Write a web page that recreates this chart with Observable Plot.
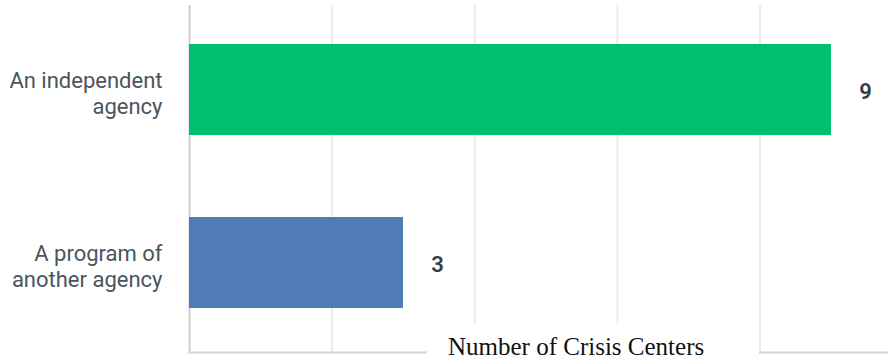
<!DOCTYPE html>
<html>
<head>
<meta charset="utf-8">
<script src="https://cdn.jsdelivr.net/npm/d3@7"></script>
<script src="https://cdn.jsdelivr.net/npm/@observablehq/plot@0.6"></script>
<style>
  html, body { margin: 0; padding: 0; background: #ffffff; }
  #wrap { position: relative; width: 888px; height: 363px; overflow: hidden; }
  #xlabel {
    position: absolute; left: 427px; top: 323px; width: 332px; height: 40px;
    background: #ffffff; box-sizing: border-box; padding-top: 9px; padding-left: 21px;
    font-family: "Liberation Serif", "DejaVu Serif", serif; font-size: 25px; line-height: 30px;
    color: #111111; white-space: nowrap; overflow: hidden;
  }
</style>
</head>
<body>
<div id="wrap"></div>
<script>
const categories = ["An independent agency", "A program of another agency"];
const counts = [9, 3];
const labelLines = ["An independent\nagency", "A program of\nanother agency"];
const barColors = ["#00bf6f", "#507cb6"];
const gridTicks = [2, 4, 6, 8];
const axisTitle = "Number of Crisis Centers";

const data = categories.map((c, i) => ({category: c, count: counts[i]}));
const labelMap = new Map(categories.map((c, i) => [c, labelLines[i]]));

const chart = Plot.plot({
  width: 888,
  height: 363,
  marginLeft: 189,
  marginRight: 0,
  marginTop: 5,
  marginBottom: 11,
  style: {fontFamily: "Roboto, 'Open Sans', sans-serif", background: "#ffffff"},
  x: {domain: [0, 9.8], axis: null},
  y: {domain: categories, range: [3, 350], paddingInner: 0.473, paddingOuter: 0.2365, axis: null},
  color: {domain: categories, range: barColors},
  marks: [
    Plot.gridX(gridTicks, {stroke: "#ebebeb", strokeOpacity: 1, strokeWidth: 2}),
    Plot.frame({anchor: "bottom", stroke: "#d4d4d4", strokeWidth: 2}),
    Plot.ruleX([0], {stroke: "#cfcfcf", strokeWidth: 2}),
    Plot.barX(data, {x: "count", y: "category", fill: "category"}),
    Plot.text(data, {x: "count", y: "category", text: d => String(d.count), dx: 34, dy: 2,
      textAnchor: "middle", fontSize: 22, fontWeight: 600, fill: "#333e48"}),
    Plot.axisY({tickSize: 0, tickPadding: 27, tickFormat: d => labelMap.get(d), label: null,
      fontSize: 22, lineHeight: 1.18, dy: 3, fill: "#4a545d"})
  ]
});
const wrap = document.getElementById("wrap");
wrap.appendChild(chart);
const lab = document.createElement("div");
lab.id = "xlabel";
lab.textContent = axisTitle;
wrap.appendChild(lab);
</script>
</body>
</html>
